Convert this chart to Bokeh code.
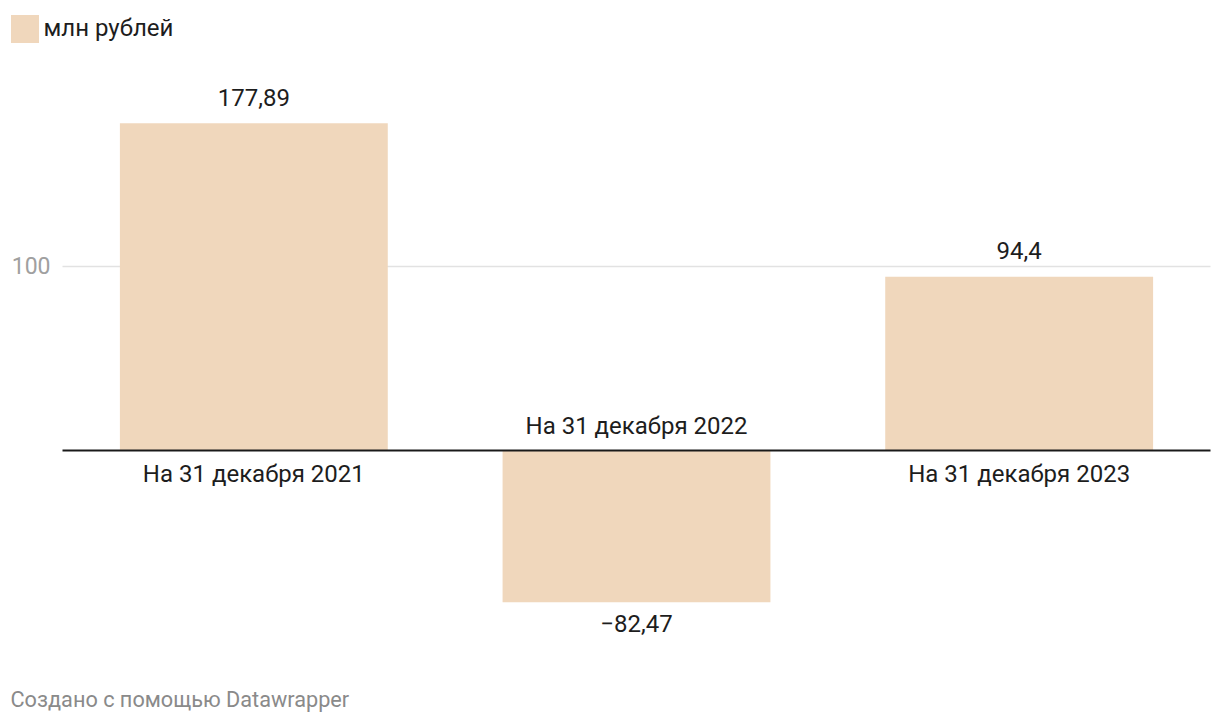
from bokeh.plotting import figure
from bokeh.models import ColumnDataSource, Range1d, Label, Legend, LegendItem
from bokeh.core.properties import value
from bokeh.embed import file_html
from bokeh.resources import INLINE

# ---- data ----
categories = ["На 31 декабря 2021", "На 31 декабря 2022", "На 31 декабря 2023"]
values = [177.89, -82.47, 94.4]
y_ticks = [100]
series_name = "млн рублей"
footer = "Создано с помощью Datawrapper"

def fmt(v):
    return ("%g" % v).replace(".", ",").replace("-", "\u2212")

BAR = "#f0d7bc"
TXT = "#1d1d1d"
FONT = "Roboto"

W, H = 1216, 720
n = len(categories)
# plot-area geometry (pixels) -> data ranges
PL, PR, ZERO_PX, PPU = 62, 1210, 450, 1.84
xppu = (PR - PL) / n
x_range = Range1d(-PL / xppu, n + (W - PR) / xppu)
y_range = Range1d(-(H - ZERO_PX) / PPU, ZERO_PX / PPU)

xs = [i + 0.5 for i in range(n)]
pos = [v >= 0 for v in values]

def sub(flag):
    idx = [i for i in range(n) if pos[i] == flag]
    return ColumnDataSource(dict(
        x=[xs[i] for i in idx],
        val=[values[i] for i in idx],
        lab=[fmt(values[i]) for i in idx],
        cat=[categories[i] for i in idx],
        zero=[0] * len(idx),
    ))

src = ColumnDataSource(dict(x=xs, val=values))
src_pos, src_neg = sub(True), sub(False)

p = figure(
    x_range=x_range, y_range=y_range,
    width=W, height=H,
    output_backend="svg", toolbar_location=None,
    x_axis_location=None, y_axis_location=None,
    min_border=0,
)
p.outline_line_color = None
p.grid.visible = False
p.background_fill_color = "white"
p.border_fill_color = "white"

# gridline at 100 and its label
p.segment(x0=[0] * len(y_ticks), x1=[n] * len(y_ticks), y0=y_ticks, y1=y_ticks,
          line_color="#e2e2e2", line_width=1.5)
p.text(x=[0] * len(y_ticks), y=y_ticks, text=[str(t) for t in y_ticks],
       x_offset=-12, y_offset=-1, text_align="right", text_baseline="middle",
       text_font=value(FONT), text_font_size="23px", text_color="#a0a0a0")

bars = p.vbar(x="x", top="val", bottom=0, width=0.7, source=src,
              fill_color=BAR, line_color=None)

# zero line
p.segment(x0=[0], x1=[n], y0=[0], y1=[0], line_color="#1a1a1a", line_width=2)

# value labels
p.text(x="x", y="val", text="lab", source=src_pos, text_align="center",
       text_baseline="alphabetic", y_offset=-26,
       text_font=value(FONT), text_font_size="24px", text_color=TXT)
p.text(x="x", y="val", text="lab", source=src_neg, text_align="center",
       text_baseline="alphabetic", y_offset=21,
       text_font=value(FONT), text_font_size="24px", text_color=TXT)

# category labels
p.text(x="x", y="zero", text="cat", source=src_pos, text_align="center",
       text_baseline="alphabetic", y_offset=23,
       text_font=value(FONT), text_font_size="24px", text_color=TXT)
p.text(x="x", y="zero", text="cat", source=src_neg, text_align="center",
       text_baseline="alphabetic", y_offset=-25,
       text_font=value(FONT), text_font_size="24px", text_color=TXT)

# legend (area legend glyphs are drawn inset by 10% of the glyph box)
legend = Legend(items=[LegendItem(label=series_name, renderers=[bars])],
                location=(6.5, H - 45.5), orientation="horizontal",
                glyph_width=35, glyph_height=35, label_standoff=2,
                label_text_font=FONT, label_text_font_size="24px",
                label_text_color=TXT, label_height=35,
                padding=0, margin=0, spacing=0,
                border_line_color=None, background_fill_alpha=0)
p.add_layout(legend, "center")

# footer
p.add_layout(Label(x=10, y=H - 699, x_units="screen", y_units="screen",
                   text=footer, text_font=FONT, text_font_size="21.7px",
                   text_color="#8a8a8a", text_baseline="alphabetic"))

open("out.html", "w").write(file_html(p, INLINE))
